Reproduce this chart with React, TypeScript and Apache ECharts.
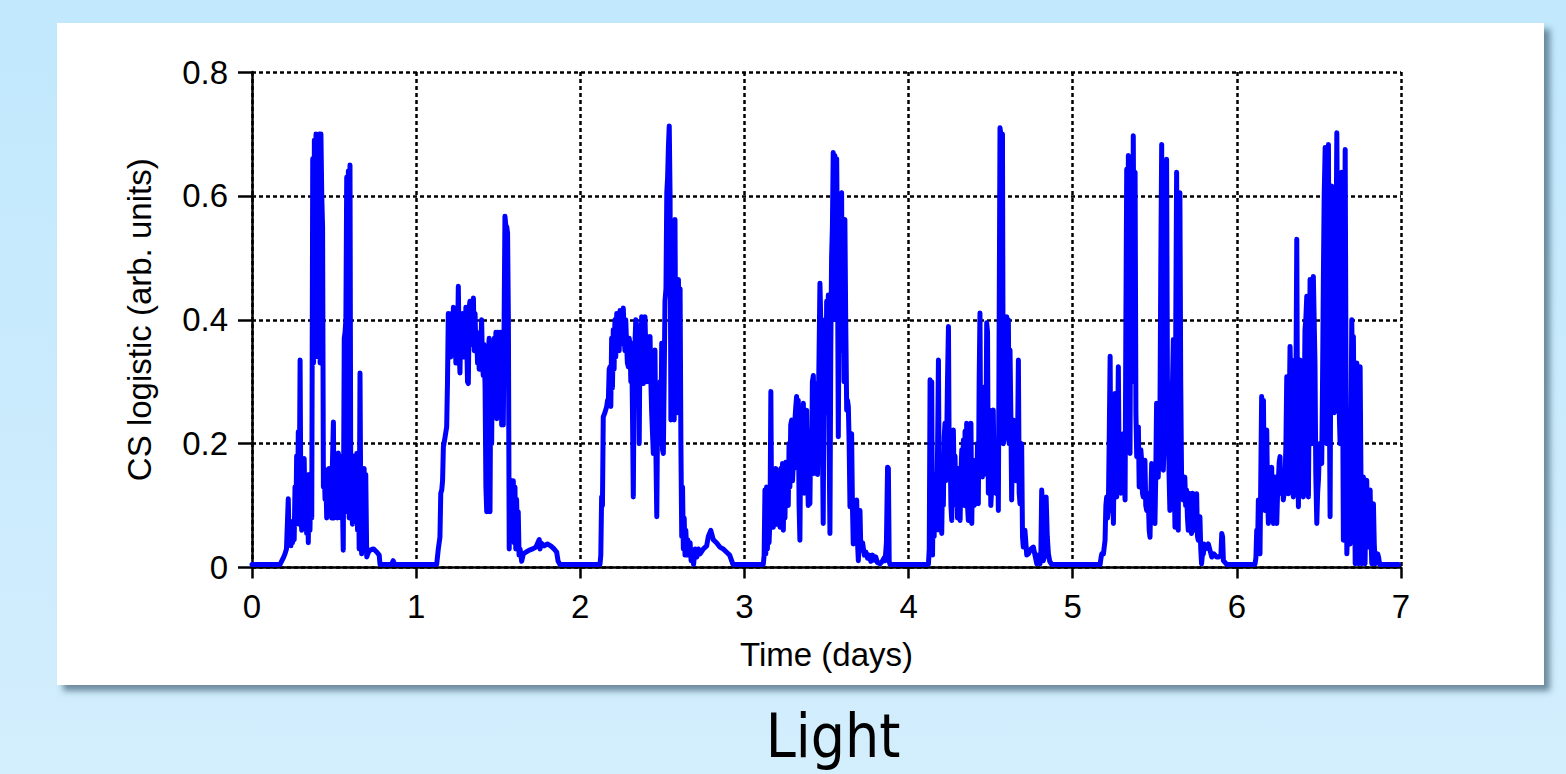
import React, { useEffect, useRef } from "react";
import * as echarts from "echarts";

// Time (days) / CS logistic (arb. units) pairs, one array per day
const day0: [number, number][] = [
  [0, 0.005], [0.171, 0.005], [0.19, 0.015], [0.201, 0.022], [0.21, 0.03], [0.221, 0.111], [0.226, 0.04], [0.232, 0.07], [0.237, 0.035], [0.242, 0.065], [0.247, 0.04], [0.252, 0.075], [0.257, 0.045], [0.262, 0.13], [0.267, 0.07], [0.272, 0.18], [0.277, 0.075], [0.282, 0.219], [0.287, 0.07], [0.293, 0.335], [0.298, 0.09], [0.303, 0.06], [0.308, 0.17], [0.313, 0.065], [0.318, 0.176], [0.323, 0.08], [0.328, 0.15], [0.333, 0.055], [0.338, 0.14], [0.343, 0.04], [0.348, 0.15], [0.353, 0.06], [0.358, 0.13], [0.364, 0.08],
  [0.37, 0.66], [0.375, 0.33], [0.38, 0.69], [0.385, 0.34], [0.39, 0.7], [0.395, 0.35], [0.4, 0.69], [0.405, 0.34], [0.41, 0.7], [0.415, 0.33], [0.42, 0.7], [0.425, 0.6], [0.43, 0.55], [0.435, 0.13], [0.44, 0.16], [0.445, 0.11], [0.45, 0.15], [0.455, 0.08], [0.46, 0.14], [0.465, 0.1], [0.47, 0.16], [0.475, 0.09], [0.48, 0.14], [0.485, 0.08], [0.49, 0.17], [0.496, 0.235], [0.5, 0.08], [0.505, 0.18], [0.51, 0.1], [0.516, 0.18], [0.52, 0.08], [0.526, 0.185], [0.531, 0.09], [0.536, 0.18], [0.541, 0.08], [0.546, 0.17], [0.551, 0.1], [0.556, 0.028], [0.562, 0.37], [0.567, 0.38], [0.572, 0.4], [0.577, 0.63], [0.582, 0.09], [0.587, 0.64], [0.592, 0.08], [0.597, 0.65], [0.602, 0.1], [0.607, 0.18], [0.612, 0.07], [0.617, 0.18], [0.622, 0.09], [0.628, 0.16], [0.633, 0.08], [0.638, 0.184], [0.643, 0.06], [0.648, 0.17], [0.653, 0.03], [0.658, 0.314], [0.663, 0.08], [0.668, 0.022], [0.673, 0.12], [0.678, 0.04], [0.683, 0.16], [0.688, 0.05], [0.693, 0.15], [0.699, 0.017], [0.71, 0.025], [0.72, 0.028], [0.74, 0.03], [0.76, 0.025], [0.775, 0.02], [0.78, 0.005], [0.85, 0.005], [0.86, 0.011], [0.87, 0.005],
];
const day1: [number, number][] = [
  [1.125, 0.005], [1.135, 0.03], [1.145, 0.049], [1.15, 0.12], [1.156, 0.125], [1.161, 0.14], [1.166, 0.195], [1.176, 0.21], [1.186, 0.227], [1.191, 0.3], [1.196, 0.41], [1.201, 0.36], [1.206, 0.4], [1.211, 0.34], [1.217, 0.41], [1.222, 0.35], [1.227, 0.42], [1.232, 0.37], [1.237, 0.39], [1.242, 0.33], [1.247, 0.41], [1.252, 0.36], [1.257, 0.454], [1.262, 0.35], [1.267, 0.314], [1.272, 0.4], [1.277, 0.36], [1.282, 0.41], [1.288, 0.34], [1.293, 0.4], [1.298, 0.36], [1.303, 0.42], [1.308, 0.37], [1.313, 0.3], [1.318, 0.297], [1.323, 0.42], [1.328, 0.43], [1.333, 0.36], [1.338, 0.43], [1.343, 0.37], [1.349, 0.435], [1.354, 0.35], [1.359, 0.41], [1.364, 0.35], [1.369, 0.38], [1.374, 0.33], [1.379, 0.37], [1.384, 0.32], [1.389, 0.324], [1.394, 0.36], [1.399, 0.4], [1.404, 0.33], [1.409, 0.31], [1.414, 0.36], [1.42, 0.29], [1.425, 0.13], [1.43, 0.09], [1.435, 0.3], [1.44, 0.35], [1.445, 0.37],
  [1.45, 0.09], [1.455, 0.33], [1.46, 0.2], [1.465, 0.36], [1.47, 0.25], [1.476, 0.37], [1.481, 0.3], [1.486, 0.38], [1.491, 0.24], [1.496, 0.38], [1.501, 0.3], [1.506, 0.38], [1.511, 0.25], [1.516, 0.38], [1.521, 0.23], [1.526, 0.38], [1.531, 0.23], [1.541, 0.567], [1.547, 0.55], [1.552, 0.55], [1.557, 0.54], [1.562, 0.4], [1.567, 0.03], [1.572, 0.12], [1.577, 0.05], [1.582, 0.14], [1.587, 0.06], [1.592, 0.14], [1.597, 0.04], [1.602, 0.13], [1.607, 0.03], [1.612, 0.11], [1.617, 0.05], [1.622, 0.09], [1.627, 0.02], [1.633, 0.03], [1.643, 0.01], [1.653, 0.022], [1.67, 0.025], [1.69, 0.028], [1.71, 0.03], [1.73, 0.033], [1.75, 0.045], [1.755, 0.03], [1.76, 0.04], [1.78, 0.035], [1.8, 0.038], [1.82, 0.035], [1.84, 0.03], [1.856, 0.025], [1.865, 0.01], [1.876, 0.005],
];
const day2: [number, number][] = [
  [2.12, 0.005], [2.125, 0.02], [2.13, 0.114], [2.135, 0.1], [2.14, 0.243], [2.15, 0.25], [2.161, 0.26], [2.166, 0.27], [2.171, 0.27], [2.176, 0.32], [2.181, 0.324], [2.186, 0.26], [2.191, 0.37], [2.196, 0.29], [2.201, 0.384], [2.206, 0.32], [2.211, 0.4], [2.216, 0.34], [2.222, 0.41], [2.227, 0.36], [2.232, 0.39], [2.237, 0.35], [2.242, 0.415], [2.247, 0.36], [2.252, 0.41], [2.257, 0.37], [2.262, 0.419], [2.267, 0.38], [2.272, 0.35], [2.277, 0.4], [2.282, 0.362], [2.287, 0.33], [2.293, 0.324], [2.298, 0.37], [2.303, 0.36], [2.308, 0.3], [2.313, 0.362], [2.318, 0.25], [2.323, 0.114], [2.328, 0.3], [2.333, 0.36], [2.338, 0.4], [2.344, 0.39], [2.349, 0.28], [2.354, 0.39], [2.359, 0.2], [2.364, 0.38], [2.369, 0.3], [2.374, 0.405], [2.379, 0.32], [2.384, 0.297], [2.389, 0.33], [2.394, 0.405], [2.4, 0.34], [2.405, 0.3], [2.41, 0.373], [2.415, 0.32], [2.42, 0.3], [2.425, 0.373], [2.43, 0.3], [2.435, 0.25], [2.445, 0.184], [2.45, 0.3], [2.455, 0.351], [2.46, 0.2], [2.466, 0.082], [2.471, 0.25], [2.476, 0.276], [2.481, 0.2], [2.486, 0.3], [2.491, 0.2], [2.496, 0.362], [2.501, 0.19], [2.506, 0.184], [2.511, 0.3], [2.516, 0.43], [2.522, 0.45], [2.527, 0.605], [2.532, 0.63], [2.537, 0.68], [2.542, 0.713], [2.547, 0.6], [2.552, 0.238], [2.557, 0.55], [2.562, 0.4], [2.567, 0.56], [2.572, 0.238], [2.577, 0.562], [2.582, 0.3], [2.587, 0.46], [2.592, 0.25], [2.598, 0.465], [2.603, 0.3], [2.608, 0.45], [2.613, 0.2], [2.618, 0.05], [2.623, 0.13], [2.628, 0.03], [2.633, 0.08], [2.638, 0.02], [2.643, 0.06], [2.648, 0.03], [2.655, 0.045], [2.66, 0.02], [2.669, 0.04], [2.675, 0.011], [2.685, 0.02], [2.69, 0.005], [2.7, 0.03], [2.71, 0.017], [2.72, 0.03], [2.73, 0.022], [2.75, 0.03], [2.77, 0.035], [2.78, 0.05], [2.795, 0.06], [2.8, 0.055], [2.81, 0.045], [2.83, 0.04], [2.85, 0.033], [2.87, 0.03], [2.89, 0.025], [2.91, 0.02], [2.93, 0.005],
];
const day3: [number, number][] = [
  [3.115, 0.005], [3.12, 0.02], [3.125, 0.125], [3.13, 0.022], [3.135, 0.13], [3.14, 0.03], [3.145, 0.1], [3.15, 0.04], [3.156, 0.08], [3.161, 0.284], [3.166, 0.07], [3.171, 0.1], [3.176, 0.065], [3.181, 0.15], [3.186, 0.1], [3.191, 0.16], [3.196, 0.07], [3.201, 0.15], [3.206, 0.09], [3.211, 0.146], [3.217, 0.065], [3.222, 0.16], [3.227, 0.08], [3.232, 0.168], [3.237, 0.06], [3.242, 0.16], [3.247, 0.08], [3.252, 0.17], [3.257, 0.11], [3.262, 0.17], [3.267, 0.1], [3.272, 0.2], [3.277, 0.13], [3.282, 0.23], [3.288, 0.238], [3.293, 0.14], [3.298, 0.17], [3.303, 0.2], [3.308, 0.24], [3.313, 0.26], [3.318, 0.276], [3.323, 0.16], [3.328, 0.27], [3.333, 0.1], [3.338, 0.044], [3.343, 0.22], [3.349, 0.25], [3.354, 0.15], [3.359, 0.265], [3.364, 0.12], [3.369, 0.25], [3.374, 0.14], [3.379, 0.254], [3.384, 0.15], [3.389, 0.1], [3.394, 0.2], [3.399, 0.103], [3.404, 0.22], [3.409, 0.15], [3.414, 0.3], [3.42, 0.31], [3.425, 0.2], [3.43, 0.152], [3.435, 0.25], [3.44, 0.297], [3.445, 0.15], [3.45, 0.25], [3.455, 0.35], [3.46, 0.459], [3.465, 0.4], [3.47, 0.37], [3.475, 0.2], [3.48, 0.071], [3.485, 0.3], [3.491, 0.4], [3.496, 0.25], [3.501, 0.43], [3.506, 0.3], [3.511, 0.44], [3.516, 0.2], [3.521, 0.055], [3.526, 0.35], [3.531, 0.5], [3.536, 0.55], [3.541, 0.67], [3.546, 0.6], [3.551, 0.665], [3.556, 0.4], [3.562, 0.66], [3.567, 0.5], [3.572, 0.211], [3.577, 0.45], [3.582, 0.4], [3.587, 0.6], [3.592, 0.605], [3.597, 0.35], [3.602, 0.56], [3.607, 0.3], [3.612, 0.562], [3.617, 0.4], [3.623, 0.254], [3.628, 0.27], [3.633, 0.26], [3.638, 0.2], [3.643, 0.098], [3.648, 0.2], [3.653, 0.216], [3.658, 0.1], [3.663, 0.038], [3.668, 0.08], [3.674, 0.05], [3.679, 0.09], [3.684, 0.109], [3.689, 0.04], [3.694, 0.011], [3.699, 0.05], [3.704, 0.092], [3.709, 0.03], [3.714, 0.028], [3.72, 0.04], [3.73, 0.02], [3.74, 0.025], [3.75, 0.015], [3.76, 0.02], [3.77, 0.01], [3.78, 0.02], [3.79, 0.012], [3.8, 0.017], [3.81, 0.008], [3.826, 0.006], [3.84, 0.01], [3.85, 0.015], [3.857, 0.011], [3.865, 0.04], [3.872, 0.162], [3.877, 0.16], [3.882, 0.01], [3.887, 0.005],
];
const day4: [number, number][] = [
  [4.121, 0.005], [4.126, 0.03], [4.131, 0.303], [4.136, 0.1], [4.141, 0.3], [4.146, 0.02], [4.151, 0.15], [4.156, 0.05], [4.161, 0.15], [4.166, 0.06], [4.172, 0.1], [4.177, 0.2], [4.182, 0.335], [4.187, 0.1], [4.192, 0.06], [4.197, 0.12], [4.202, 0.055], [4.207, 0.15], [4.212, 0.1], [4.217, 0.21], [4.222, 0.233], [4.227, 0.14], [4.232, 0.2], [4.237, 0.3], [4.243, 0.389], [4.248, 0.15], [4.253, 0.2], [4.258, 0.1], [4.263, 0.076], [4.268, 0.2], [4.273, 0.222], [4.278, 0.13], [4.283, 0.18], [4.288, 0.1], [4.293, 0.157], [4.298, 0.08], [4.303, 0.16], [4.308, 0.1], [4.314, 0.076], [4.319, 0.15], [4.324, 0.19], [4.329, 0.13], [4.334, 0.206], [4.339, 0.1], [4.344, 0.22], [4.349, 0.12], [4.354, 0.233], [4.359, 0.1], [4.364, 0.076], [4.369, 0.15], [4.374, 0.1],
  [4.38, 0.233], [4.385, 0.071], [4.39, 0.17], [4.395, 0.173], [4.4, 0.1], [4.405, 0.103], [4.41, 0.17], [4.415, 0.12], [4.42, 0.2], [4.425, 0.103], [4.43, 0.3], [4.435, 0.411], [4.44, 0.15], [4.445, 0.25], [4.45, 0.146], [4.456, 0.25], [4.461, 0.15], [4.466, 0.292], [4.471, 0.2], [4.476, 0.395], [4.481, 0.38], [4.486, 0.12], [4.491, 0.2], [4.496, 0.254], [4.501, 0.1], [4.506, 0.125], [4.511, 0.25], [4.516, 0.254], [4.521, 0.15], [4.527, 0.2], [4.532, 0.12], [4.537, 0.119], [4.542, 0.2], [4.547, 0.092], [4.552, 0.4], [4.557, 0.71], [4.562, 0.7], [4.567, 0.4], [4.572, 0.7], [4.577, 0.2], [4.582, 0.206], [4.588, 0.233], [4.593, 0.3], [4.598, 0.405], [4.603, 0.25], [4.608, 0.4], [4.613, 0.2], [4.618, 0.351], [4.623, 0.25], [4.628, 0.109], [4.633, 0.2], [4.638, 0.238], [4.643, 0.15], [4.648, 0.2], [4.653, 0.14], [4.659, 0.168], [4.664, 0.2], [4.669, 0.335], [4.674, 0.12], [4.679, 0.103], [4.684, 0.18], [4.689, 0.2], [4.694, 0.05], [4.699, 0.033], [4.704, 0.06], [4.709, 0.06], [4.72, 0.02], [4.73, 0.022], [4.745, 0.03], [4.76, 0.033], [4.77, 0.02], [4.781, 0.006], [4.79, 0.02], [4.801, 0.006], [4.806, 0.02], [4.811, 0.125], [4.816, 0.1], [4.821, 0.011], [4.83, 0.02], [4.838, 0.114], [4.845, 0.05], [4.852, 0.022], [4.86, 0.01], [4.872, 0.005],
];
const day5: [number, number][] = [
  [5.167, 0.005], [5.172, 0.015], [5.177, 0.022], [5.187, 0.022], [5.197, 0.044], [5.202, 0.1], [5.207, 0.114], [5.212, 0.08], [5.217, 0.092], [5.222, 0.2], [5.228, 0.341], [5.233, 0.1], [5.238, 0.092], [5.243, 0.15], [5.248, 0.071], [5.253, 0.2], [5.258, 0.281], [5.263, 0.12], [5.268, 0.114], [5.273, 0.2], [5.278, 0.324], [5.283, 0.15], [5.288, 0.2], [5.293, 0.12], [5.298, 0.179], [5.303, 0.14], [5.309, 0.216], [5.314, 0.15], [5.319, 0.109], [5.324, 0.4], [5.329, 0.643], [5.334, 0.2], [5.339, 0.665], [5.344, 0.3], [5.349, 0.184], [5.354, 0.5], [5.359, 0.632], [5.364, 0.3], [5.369, 0.697], [5.374, 0.4], [5.38, 0.638], [5.385, 0.25], [5.39, 0.179], [5.395, 0.2], [5.4, 0.227], [5.405, 0.13], [5.41, 0.141], [5.415, 0.19], [5.42, 0.173], [5.425, 0.12], [5.43, 0.114], [5.435, 0.16], [5.44, 0.173], [5.445, 0.1], [5.451, 0.092], [5.456, 0.12], [5.461, 0.103], [5.466, 0.06], [5.471, 0.049], [5.476, 0.12], [5.481, 0.168], [5.486, 0.1], [5.491, 0.146], [5.496, 0.08], [5.501, 0.071], [5.506, 0.15], [5.511, 0.265], [5.516, 0.15], [5.521, 0.146], [5.526, 0.2], [5.532, 0.27], [5.537, 0.5], [5.542, 0.683], [5.547, 0.2], [5.552, 0.157], [5.557, 0.2], [5.562, 0.254], [5.567, 0.45], [5.572, 0.659], [5.577, 0.3], [5.582, 0.254], [5.587, 0.15], [5.592, 0.092], [5.597, 0.2], [5.603, 0.265], [5.608, 0.3], [5.613, 0.368], [5.618, 0.15], [5.623, 0.065], [5.628, 0.4], [5.633, 0.638], [5.638, 0.2], [5.643, 0.06], [5.648, 0.4], [5.653, 0.605], [5.658, 0.3], [5.663, 0.152], [5.668, 0.12], [5.673, 0.109], [5.678, 0.14], [5.683, 0.146], [5.688, 0.1], [5.694, 0.125], [5.699, 0.08], [5.704, 0.06], [5.709, 0.12], [5.714, 0.119], [5.719, 0.07], [5.724, 0.055], [5.729, 0.12], [5.734, 0.119], [5.739, 0.07], [5.745, 0.06], [5.75, 0.11], [5.755, 0.119], [5.76, 0.05], [5.765, 0.044], [5.77, 0.07], [5.775, 0.082], [5.78, 0.03], [5.785, 0.006], [5.79, 0.02], [5.796, 0.022], [5.8, 0.038], [5.81, 0.03], [5.826, 0.038], [5.836, 0.028], [5.847, 0.017], [5.86, 0.022], [5.877, 0.017], [5.89, 0.017], [5.903, 0.02], [5.908, 0.055], [5.913, 0.05], [5.918, 0.011], [5.938, 0.005],
];
const day6: [number, number][] = [
  [6.11, 0.005], [6.116, 0.015], [6.121, 0.06], [6.126, 0.03], [6.131, 0.109], [6.136, 0.05], [6.141, 0.022], [6.146, 0.15], [6.151, 0.276], [6.157, 0.2], [6.162, 0.27], [6.167, 0.12], [6.172, 0.092], [6.177, 0.15], [6.182, 0.222], [6.187, 0.12], [6.192, 0.071], [6.197, 0.12], [6.202, 0.092], [6.207, 0.13], [6.212, 0.162], [6.217, 0.1], [6.223, 0.071], [6.228, 0.12], [6.233, 0.146], [6.238, 0.1], [6.243, 0.071], [6.248, 0.12], [6.253, 0.141], [6.258, 0.17], [6.263, 0.179], [6.268, 0.12], [6.273, 0.119], [6.278, 0.14], [6.283, 0.109], [6.288, 0.12], [6.294, 0.146], [6.299, 0.2], [6.304, 0.308], [6.309, 0.15], [6.314, 0.119], [6.319, 0.25], [6.324, 0.357], [6.329, 0.3], [6.334, 0.335], [6.339, 0.15], [6.344, 0.114], [6.349, 0.13], [6.354, 0.146], [6.36, 0.3], [6.365, 0.53], [6.37, 0.2], [6.375, 0.098], [6.38, 0.2], [6.385, 0.335], [6.39, 0.15], [6.395, 0.13], [6.4, 0.12], [6.405, 0.114], [6.41, 0.25], [6.415, 0.384], [6.42, 0.4], [6.426, 0.438], [6.431, 0.15], [6.436, 0.114], [6.441, 0.3], [6.446, 0.465], [6.451, 0.25], [6.456, 0.2], [6.461, 0.4], [6.466, 0.47], [6.471, 0.4], [6.476, 0.33], [6.481, 0.15], [6.487, 0.071], [6.492, 0.12], [6.497, 0.141], [6.502, 0.18], [6.507, 0.2], [6.512, 0.18], [6.517, 0.168], [6.522, 0.3], [6.527, 0.465], [6.532, 0.6], [6.538, 0.678], [6.543, 0.4], [6.548, 0.2], [6.553, 0.5], [6.558, 0.683], [6.563, 0.3], [6.568, 0.082], [6.573, 0.4], [6.578, 0.616], [6.583, 0.4], [6.588, 0.254], [6.594, 0.25], [6.599, 0.276], [6.604, 0.5], [6.609, 0.702], [6.614, 0.5], [6.619, 0.297], [6.624, 0.25], [6.629, 0.2], [6.634, 0.4], [6.639, 0.638], [6.644, 0.3], [6.649, 0.044], [6.654, 0.4], [6.66, 0.675], [6.665, 0.3], [6.67, 0.022], [6.675, 0.06], [6.68, 0.098], [6.685, 0.06], [6.69, 0.038], [6.695, 0.2], [6.7, 0.4], [6.705, 0.3], [6.71, 0.373], [6.715, 0.2], [6.721, 0.006], [6.726, 0.2], [6.731, 0.33], [6.736, 0.15], [6.741, 0.006], [6.746, 0.2], [6.751, 0.324], [6.756, 0.15], [6.761, 0.006], [6.766, 0.1], [6.771, 0.146], [6.776, 0.08], [6.781, 0.006], [6.786, 0.1], [6.791, 0.141], [6.796, 0.08], [6.802, 0.033], [6.807, 0.1], [6.812, 0.125], [6.817, 0.05], [6.822, 0.006], [6.827, 0.06], [6.832, 0.103], [6.837, 0.04], [6.842, 0.006], [6.85, 0.01], [6.858, 0.022], [6.863, 0.017], [6.87, 0.005], [6.985, 0.005],
];

const xTicks = { min: 0, max: 7, interval: 1 };
const yTicks = { min: 0, max: 0.8, interval: 0.2 };
const xAxisName = "Time (days)";
const yAxisName = "CS logistic (arb. units)";
const caption = "Light";

const FONT = "'Liberation Sans', Arial, sans-serif";

export default function App() {
  const ref = useRef<HTMLDivElement>(null);
  useEffect(() => {
    if (!ref.current) return;
    const chart = echarts.init(ref.current, undefined, { renderer: "svg" });
    const data = [...day0, ...day1, ...day2, ...day3, ...day4, ...day5, ...day6];
    const gridLine = { show: true, lineStyle: { color: "#000", width: 2.5, type: [4, 3] as number[] } };
    chart.setOption({
      animation: false,
      backgroundColor: {
        type: "linear", x: 0, y: 0, x2: 0, y2: 1,
        colorStops: [
          { offset: 0, color: "#c1e8fd" },
          { offset: 1, color: "#d3eefd" },
        ],
      },
      graphic: [
        {
          type: "rect", z: -10, silent: true,
          shape: { x: 57, y: 23, width: 1487, height: 662 },
          style: {
            fill: "#ffffff",
            shadowBlur: 6, shadowOffsetX: 6, shadowOffsetY: 6,
            shadowColor: "rgba(40,70,95,0.6)",
          },
        },
        {
          type: "text", x: 833, y: 736, z: 10,
          style: {
            text: caption, fill: "#000", fontSize: 60,
            fontFamily: "'DejaVu Sans Condensed', 'DejaVu Sans', sans-serif",
            align: "center", verticalAlign: "middle",
          },
        },
      ],
      grid: { left: 252, right: 165, top: 72, bottom: 206.5, outerBoundsMode: "none" },
      xAxis: {
        type: "value", ...xTicks,
        name: xAxisName, nameLocation: "middle", nameGap: 70,
        nameTextStyle: { fontSize: 33, fontFamily: FONT, color: "#000" },
        axisLine: { show: true, onZero: false, lineStyle: { color: "#000", width: 2.5 } },
        axisTick: { show: true, length: 11, lineStyle: { color: "#000", width: 2.5 } },
        axisLabel: { fontSize: 33, fontFamily: FONT, color: "#000", margin: 22 },
        splitLine: gridLine,
      },
      yAxis: {
        type: "value", ...yTicks,
        name: yAxisName, nameLocation: "middle", nameGap: 96,
        nameTextStyle: { fontSize: 33, fontFamily: FONT, color: "#000" },
        axisLine: { show: true, onZero: false, lineStyle: { color: "#000", width: 2.5 } },
        axisTick: { show: true, length: 14, lineStyle: { color: "#000", width: 2.5 } },
        axisLabel: { fontSize: 33, fontFamily: FONT, color: "#000", margin: 24 },
        splitLine: gridLine,
      },
      series: [
        {
          type: "line", data, showSymbol: false, symbol: "none",
          lineStyle: { color: "#0000ff", width: 5, cap: "round", join: "round" },
          itemStyle: { color: "#0000ff" },
          z: 3,
        },
      ],
    });
    return () => chart.dispose();
  }, []);
  return (
    <div
      ref={ref}
      style={{ position: "fixed", left: 0, top: 0, width: 1566, height: 774 }}
    />
  );
}
